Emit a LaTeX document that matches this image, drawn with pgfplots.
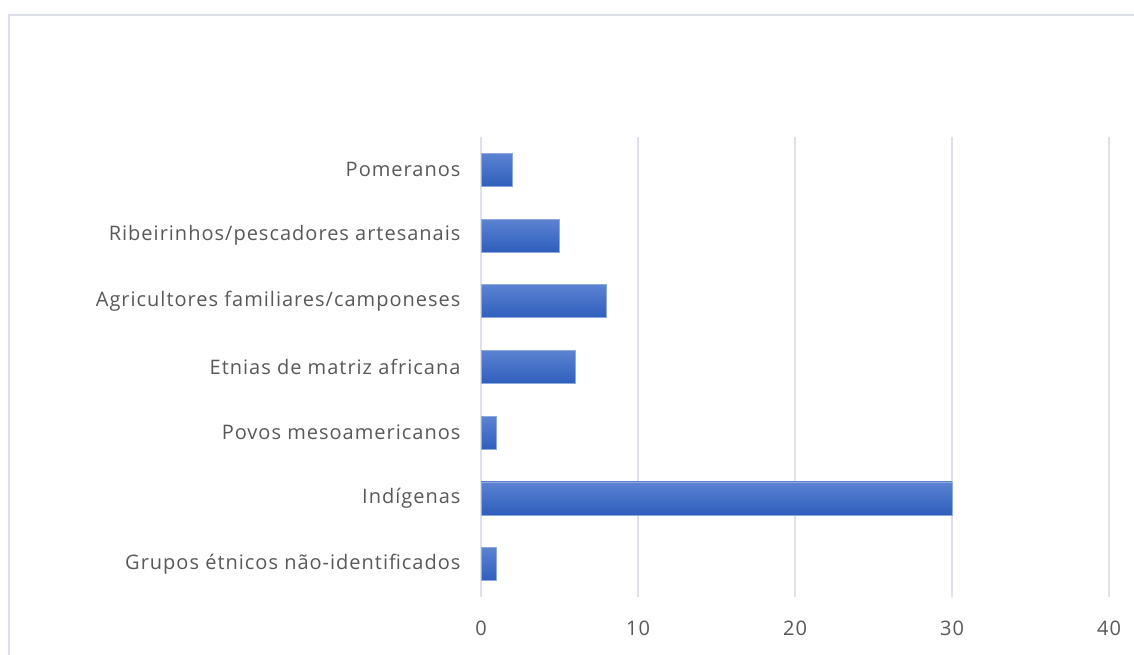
\documentclass[border=0pt]{standalone}
\usepackage{fontspec}
\setmainfont{Open Sans}[LetterSpace=5]
\usepackage{pgfplots}
\pgfplotsset{compat=1.18}
\definecolor{gridc}{HTML}{DDE1EA}
\definecolor{framec}{HTML}{DCE0E8}
\definecolor{txt}{HTML}{595959}
\definecolor{bartop}{HTML}{5C83D1}
\definecolor{barbot}{HTML}{2E5EBD}
\definecolor{baredge}{HTML}{8EA9DB}
\pgfplotsset{mybar/.style={xbar, bar width=33pt, bar shift=0pt, draw=baredge, line width=0.6pt, top color=bartop, bottom color=barbot}}
\begin{document}
\begin{tikzpicture}
\path[use as bounding box] (0pt,0pt) rectangle (1134pt,-655pt);
\fill[white] (0pt,0pt) rectangle (1134pt,-655pt);
\draw[framec, line width=1.5pt] (9pt,-655pt) -- (9pt,-15pt) -- (1134pt,-15pt);
\begin{axis}[
  at={(481pt,-137pt)}, anchor=north west,
  scale only axis, width=628pt, height=460pt,
  xmin=0, xmax=40, ymin=-0.5, ymax=6.5,
  xtick={0,10,20,30,40},
  ytick={0,...,6},
  yticklabels={Grupos étnicos não-identificados, Indígenas, Povos mesoamericanos, Etnias de matriz africana, Agricultores familiares/camponeses, Ribeirinhos/pescadores artesanais, Pomeranos},
  axis line style={draw=none},
  major tick length=0pt,
  xmajorgrids, grid style={gridc, line width=1.2pt},
  ticklabel style={font=\fontsize{20}{23}\selectfont, text=txt},
  /pgf/number format/assume math mode=true,
  xticklabel style={yshift=-20pt},
  yticklabel style={xshift=-17pt},
  clip=false,
]
\addplot[mybar] coordinates {(1,0)};
\addplot[mybar] coordinates {(30,1)};
\addplot[mybar] coordinates {(1,2)};
\addplot[mybar] coordinates {(6,3)};
\addplot[mybar] coordinates {(8,4)};
\addplot[mybar] coordinates {(5,5)};
\addplot[mybar] coordinates {(2,6)};
\end{axis}
\end{tikzpicture}
\end{document}
